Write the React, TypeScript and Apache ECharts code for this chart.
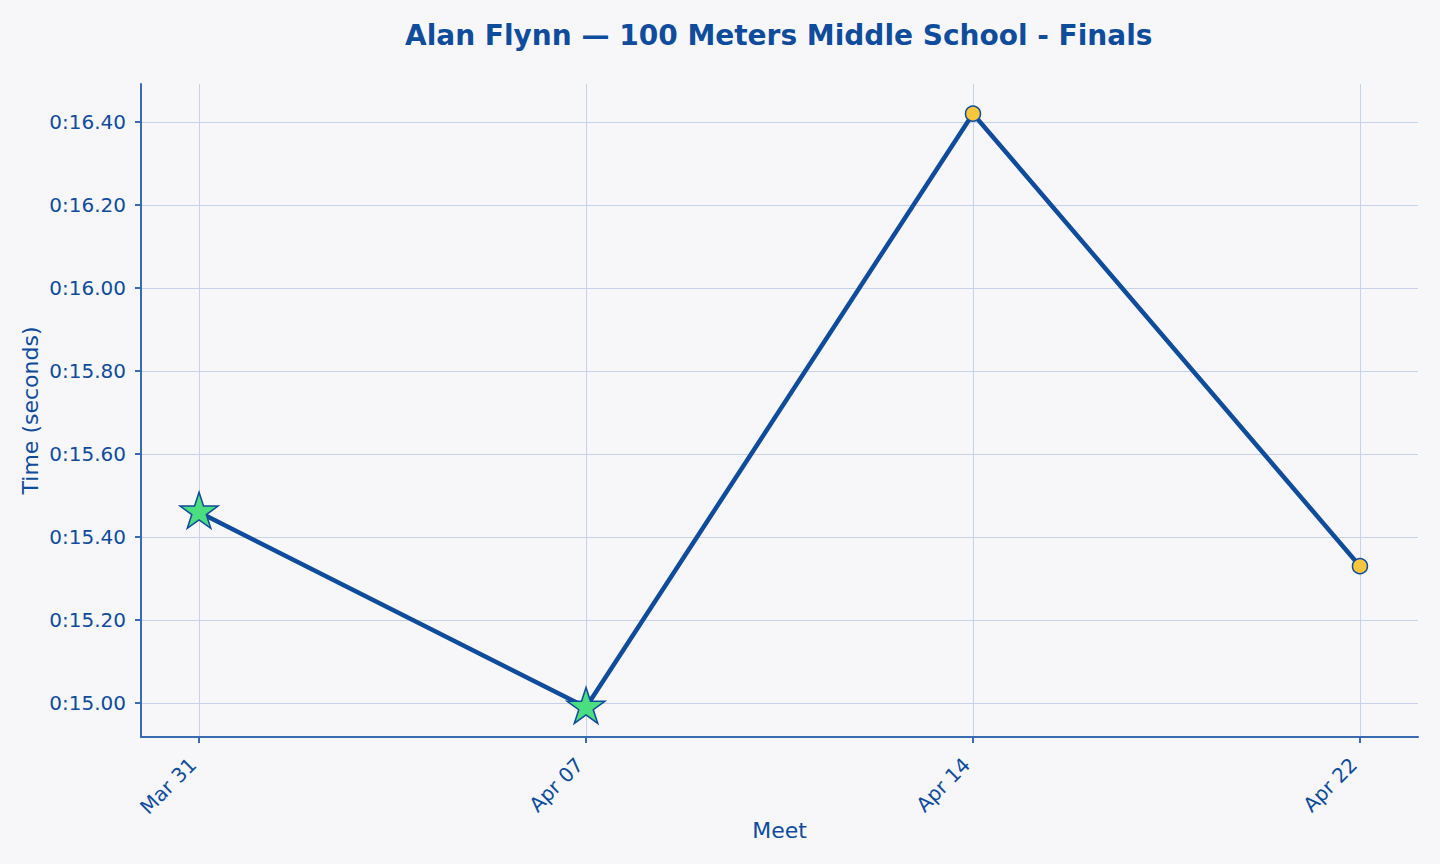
import React, { useEffect, useRef } from 'react';
import * as echarts from 'echarts';

const meets = ['Mar 31', 'Apr 07', 'Apr 14', 'Apr 22'];
const times = [15.46, 14.99, 16.42, 15.33];
const personalBest = [true, true, false, false];
const yTicks = [15.0, 15.2, 15.4, 15.6, 15.8, 16.0, 16.2, 16.4];

const INK = '#0f4c9c';
const AXIS = '#3a6bb0';
const GRID = '#c5d2e9';
const BG = '#f7f7fa';
const FONT = '"DejaVu Sans", sans-serif';

// five point star like matplotlib's '*' marker
const starPath = (() => {
  const pts: string[] = [];
  for (let i = 0; i < 10; i += 1) {
    const a = (-90 + i * 36) * (Math.PI / 180);
    const r = i % 2 === 0 ? 1 : 0.381966;
    pts.push(`${(r * Math.cos(a)).toFixed(4)} ${(r * Math.sin(a)).toFixed(4)}`);
  }
  return `path://M${pts.join(' L')} Z`;
})();

const fmtTime = (v: number) => {
  const m = Math.floor(v / 60);
  const s = v - m * 60;
  return `${m}:${s.toFixed(2).padStart(5, '0')}`;
};

// matplotlib style 5% margins
const yPad = (Math.max(...times) - Math.min(...times)) * 0.05;
const yMin = Math.min(...times) - yPad;
const yMax = Math.max(...times) + yPad;
const xPad = (meets.length - 1) * 0.05;

export default function App() {
  const ref = useRef<HTMLDivElement>(null);

  useEffect(() => {
    if (!ref.current) return;
    const chart = echarts.init(ref.current, null, { renderer: 'svg' });
    const idx = meets.map((_, i) => i);

    chart.setOption({
      animation: false,
      backgroundColor: BG,
      textStyle: { fontFamily: FONT },
      title: {
        text: 'Alan Flynn — 100 Meters Middle School - Finals',
        left: 405,
        top: 21,
        padding: 0,
        textStyle: { color: INK, fontSize: 28, fontWeight: 'bold', fontFamily: FONT },
      },
      grid: { left: 141, right: 22, top: 84, bottom: 127, containLabel: false },
      xAxis: {
        type: 'value',
        min: -xPad,
        max: meets.length - 1 + xPad,
        name: 'Meet',
        nameLocation: 'middle',
        nameGap: 82,
        nameMoveOverlap: false,
        nameTextStyle: { color: INK, fontSize: 22, fontFamily: FONT },
        axisLine: { show: true, onZero: false, lineStyle: { color: AXIS, width: 2 } },
        axisTick: { show: true, length: 6, customValues: idx, lineStyle: { color: AXIS, width: 2 } },
        axisLabel: {
          customValues: idx,
          rotate: 45,
          margin: 18,
          padding: [0, 9, 11, 0],
          color: INK,
          fontSize: 20,
          fontFamily: FONT,
          formatter: (v: number) => meets[Math.round(v)] ?? '',
        },
        splitLine: { show: true, lineStyle: { color: GRID, width: 1 } },
      },
      yAxis: {
        type: 'value',
        min: yMin,
        max: yMax,
        name: 'Time (seconds)',
        nameLocation: 'middle',
        nameGap: 100,
        nameMoveOverlap: false,
        nameTextStyle: { color: INK, fontSize: 22, fontFamily: FONT },
        axisLine: { show: true, onZero: false, lineStyle: { color: AXIS, width: 2 } },
        axisTick: { show: true, length: 6, customValues: yTicks, lineStyle: { color: AXIS, width: 2 } },
        axisLabel: {
          customValues: yTicks,
          margin: 15,
          color: INK,
          fontSize: 20,
          fontFamily: FONT,
          formatter: (v: number) => fmtTime(v),
        },
        splitLine: { show: true, lineStyle: { color: GRID, width: 1 } },
      },
      series: [
        {
          type: 'line',
          data: times.map((t, i) =>
            personalBest[i]
              ? {
                  value: [i, t],
                  symbol: starPath,
                  symbolSize: [38, 36],
                  symbolOffset: [0, -1.9],
                  itemStyle: { color: '#4ade80', borderColor: INK, borderWidth: 1.5 },
                }
              : {
                  value: [i, t],
                  symbol: 'circle',
                  symbolSize: 15,
                  itemStyle: { color: '#f8c63c', borderColor: INK, borderWidth: 1.5 },
                },
          ),
          showAllSymbol: true,
          lineStyle: { color: INK, width: 4.5 },
          z: 3,
        },
      ],
    });

    return () => chart.dispose();
  }, []);

  return (
    <div
      ref={ref}
      style={{ position: 'fixed', left: 0, top: 0, width: 1440, height: 864, background: BG }}
    />
  );
}
